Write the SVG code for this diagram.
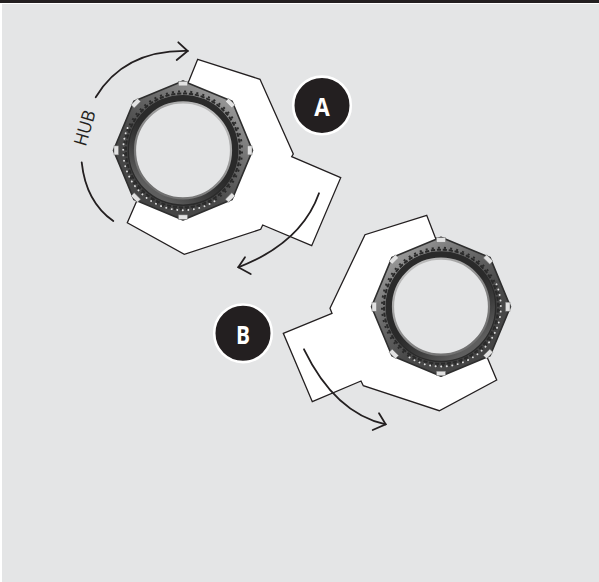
<svg xmlns="http://www.w3.org/2000/svg" xmlns:xlink="http://www.w3.org/1999/xlink" width="599" height="582" viewBox="0 0 599 582">
<style>
.wrench{fill:#fff;stroke:#231f20;stroke-width:1.3;stroke-linejoin:miter}
.arc{fill:none;stroke:#231f20;stroke-width:1.8;stroke-linecap:round;stroke-linejoin:miter}
.disc{fill:#231f20;stroke:#fff;stroke-width:2.6}
.letter{font-family:"Open Sans","Liberation Sans",sans-serif;font-weight:700;font-size:25px;fill:#fff;text-anchor:middle}
.tab{fill:#e2e2e2;stroke:#777;stroke-width:.5}
</style>
<defs>
<linearGradient id="rim" gradientUnits="userSpaceOnUse" x1="45" y1="-55" x2="-40" y2="50">
<stop offset="0" stop-color="#9c9c9c"/><stop offset=".35" stop-color="#6a6a6a"/><stop offset=".65" stop-color="#4a4a4a"/><stop offset="1" stop-color="#444"/>
</linearGradient>
<linearGradient id="lip" gradientUnits="userSpaceOnUse" x1="30" y1="-40" x2="-30" y2="40">
<stop offset="0" stop-color="#bdbdbd"/><stop offset=".5" stop-color="#8c8c8c"/><stop offset="1" stop-color="#6e6e6e"/>
</linearGradient>
<linearGradient id="shade" gradientUnits="userSpaceOnUse" x1="25" y1="-35" x2="-30" y2="40">
<stop offset=".45" stop-color="#444" stop-opacity="0"/><stop offset="1" stop-color="#5e5e5e"/>
</linearGradient>
<g id="hub">
<polygon points="0,-69.5 49.1,-49.1 69.5,0 49.1,49.1 0,69.5 -49.1,49.1 -69.5,0 -49.1,-49.1" fill="url(#rim)" stroke="#2e2e2e" stroke-width="1.6" stroke-linejoin="round"/>
<circle r="55.5" fill="#2a2a2a"/>
<circle r="57" fill="none" stroke="#2a2a2a" stroke-width="2" pathLength="360" stroke-dasharray="4.2 1.8"/>
<circle r="59" fill="none" stroke="#2a2a2a" stroke-width="2" pathLength="360" stroke-dasharray="2 4" stroke-dashoffset="-1.1"/>
<path d="M-55.5 -22.4A59.8 59.8 0 0 0 33.5 49.5" fill="none" stroke="#dcdcdc" stroke-width="1.9" stroke-linecap="round" stroke-dasharray="0.1 5.45"/>
<circle r="51" fill="none" stroke="url(#shade)" stroke-width="6"/>
<circle r="48" fill="#e4e5e6" stroke="url(#lip)" stroke-width="2.2"/>
<rect class="tab" x="-4.5" y="-69" width="9" height="4.5"/>
<rect class="tab" x="-4.5" y="-69" width="9" height="4.5" transform="rotate(45)"/>
<rect class="tab" x="-4.5" y="-69" width="9" height="4.5" transform="rotate(90)"/>
<rect class="tab" x="-4.5" y="-69" width="9" height="4.5" transform="rotate(135)"/>
<rect class="tab" x="-4.5" y="-69" width="9" height="4.5" transform="rotate(180)"/>
<rect class="tab" x="-4.5" y="-69" width="9" height="4.5" transform="rotate(225)"/>
<rect class="tab" x="-4.5" y="-69" width="9" height="4.5" transform="rotate(270)"/>
<rect class="tab" x="-4.5" y="-69" width="9" height="4.5" transform="rotate(315)"/>
</g>
</defs>
<rect width="599" height="582" fill="#fff"/>
<rect x="2" y="4" width="597" height="578" fill="#e4e5e6"/>
<rect width="599" height="3" fill="#231f20"/>
<g id="wrench-a"><polygon class="wrench" points="197.7,59.3 260,79.3 293.3,154 291.7,156.7 340.7,177.7 311.7,245.7 262.7,225 260.7,229.3 184.3,254.3 127.3,222.7 135,205 189.3,80"/></g>
<g id="hub-a"><use href="#hub" xlink:href="#hub" transform="translate(183,150.4)"/></g>
<g id="wrench-b"><polygon class="wrench" points="426.7,215.3 365,234.7 330,308.3 332,313.3 283.3,333.3 312.3,401.7 361,381 363.3,385.7 439.3,410.7 496.7,380 488.3,360 435,236.7"/></g>
<g id="hub-b"><use href="#hub" xlink:href="#hub" transform="translate(441,306.7) scale(-1,1)"/></g>
<g id="badge-a"><circle class="disc" cx="322" cy="105.4" r="28.8"/><text class="letter" x="322" y="115.5" textLength="15.5" lengthAdjust="spacingAndGlyphs">A</text></g>
<g id="badge-b"><circle class="disc" cx="243" cy="333.3" r="28.8"/><text class="letter" x="243" y="344" textLength="14" lengthAdjust="spacingAndGlyphs">B</text></g>
<g id="hub-label"><text x="0" y="0" transform="translate(90.7,129.8) rotate(-74)" font-family="'Open Sans','Liberation Sans',sans-serif" font-weight="400" font-size="18" fill="#231f20" text-anchor="middle" textLength="36" lengthAdjust="spacingAndGlyphs">HUB</text></g>
<g id="connectors">
<path class="arc" d="M95.7 97.3Q124.3 49.8 187.7 51"/><path class="arc" d="M178.3 42.3L187.7 51L176.7 60"/>
<path class="arc" d="M81.7 162.3Q85.9 201.8 113.3 221"/>
<path class="arc" d="M319 193.3Q301.3 243.1 238.3 267.3"/><path class="arc" d="M245 257.3L238.3 267.3L250.7 274"/>
<path class="arc" d="M304 349.3Q335 413.2 385.7 424.3"/><path class="arc" d="M379 413.3L385.7 424.3L372.7 430"/>
</g>
</svg>
